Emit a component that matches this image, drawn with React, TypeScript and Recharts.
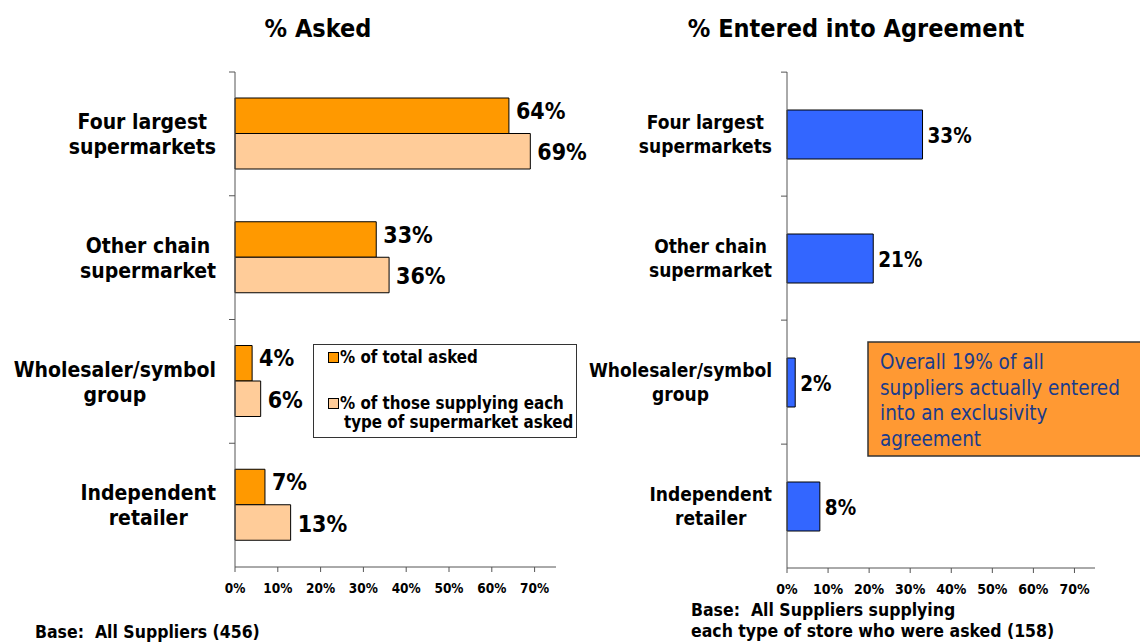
import React from 'react';
import { BarChart, Bar, XAxis, YAxis, LabelList } from 'recharts';

const categories = [
  'Four largest\nsupermarkets',
  'Other chain\nsupermarket',
  'Wholesaler/symbol\ngroup',
  'Independent\nretailer',
];
const totalAsked = [64, 33, 4, 7];
const supplyingAsked = [69, 36, 6, 13];
const enteredAgreement = [33, 21, 2, 8];
const xTicks = [0, 10, 20, 30, 40, 50, 60, 70];
const seriesNames = ['% of total asked', '% of those supplying each\ntype of supermarket asked'];
const titles = ['% Asked', '% Entered into Agreement'];
const baseLeft = ['Base:  All Suppliers (456)'];
const baseRight = ['Base:  All Suppliers supplying', 'each type of store who were asked (158)'];
const noteLines = ['Overall 19% of all', 'suppliers actually entered', 'into an exclusivity', 'agreement'];

const FONT = "'DejaVu Sans Condensed', 'DejaVu Sans', sans-serif";
const ORANGE = '#FF9900';
const PEACH = '#FFCC99';
const BLUE = '#3366FF';
const AXIS = '#555555';

const leftData = categories.map((cat, i) => ({ cat, total: totalAsked[i], supplying: supplyingAsked[i] }));
const rightData = categories.map((cat, i) => ({ cat, entered: enteredAgreement[i] }));

let ctx: CanvasRenderingContext2D | null = null;
function measure(text: string, font: string): number {
  if (!ctx) ctx = document.createElement('canvas').getContext('2d');
  if (!ctx) return text.length * 10;
  ctx.font = font;
  return ctx.measureText(text).width;
}

const BAND = 495 / 4;

function CategoryTick(props: any) {
  const { y, payload, labelRight, axisX, fontSize, lineHeight, capH } = props;
  const lines = String(payload.value).split('\n');
  const font = `bold ${fontSize}px ${FONT}`;
  const maxW = Math.max(...lines.map((l) => measure(l, font)));
  const cx = labelRight - maxW / 2;
  const y0 = y + capH / 2 - ((lines.length - 1) * lineHeight) / 2;
  return (
    <g>
      <line x1={axisX - 6} x2={axisX} y1={y - BAND / 2} y2={y - BAND / 2} stroke={AXIS} strokeWidth={1} />
      <text textAnchor="middle" fontFamily={FONT} fontWeight="bold" fontSize={fontSize} fill="#000">
        {lines.map((l, i) => (
          <tspan key={i} x={cx} y={y0 + i * lineHeight}>
            {l}
          </tspan>
        ))}
      </text>
    </g>
  );
}

const pct = (v: any) => `${v}%`;

const makeValueLabel = (fontSize: number, offset: number, shift: number) => (p: any) => {
  const { x, y, width, height, value } = p;
  return (
    <text
      x={Number(x) + Number(width) + offset}
      y={Number(y) + Number(height) / 2 + shift}
      dominantBaseline="central"
      fontFamily={FONT}
      fontWeight="bold"
      fontSize={fontSize}
      fill="#000"
    >
      {pct(value)}
    </text>
  );
};

export default function App() {
  return (
    <div style={{ position: 'absolute', left: 0, top: 0, width: 1140, height: 642, background: '#fff', overflow: 'hidden' }}>
      <div style={{ position: 'absolute', left: 0, top: 0 }}>
        <BarChart width={620} height={642} data={leftData} layout="vertical" margin={{ top: 72, right: 64, bottom: 45, left: 0 }} barGap={0}>
          <XAxis
            type="number"
            domain={[0, 75]}
            ticks={xTicks}
            interval={0}
            tickFormatter={pct}
            height={30}
            tickSize={5}
            tickMargin={11}
            axisLine={{ stroke: AXIS }}
            tickLine={{ stroke: AXIS }}
            tick={{ fontSize: 13.5, fontWeight: 'bold', fill: '#000', fontFamily: FONT }}
          />
          <YAxis
            type="category"
            dataKey="cat"
            width={235}
            interval={0}
            axisLine={{ stroke: AXIS }}
            tickLine={false}
            tick={(p: any) => <CategoryTick {...p} labelRight={216} axisX={235} fontSize={21} lineHeight={25} capH={15.5} />}
          />
          <Bar dataKey="total" fill={ORANGE} stroke="#000" strokeWidth={1} barSize={35.5} isAnimationActive={false}>
            <LabelList dataKey="total" content={makeValueLabel(23, 7, -5)} />
          </Bar>
          <Bar dataKey="supplying" fill={PEACH} stroke="#000" strokeWidth={1} barSize={35.5} isAnimationActive={false}>
            <LabelList dataKey="supplying" content={makeValueLabel(23, 7, 1)} />
          </Bar>
        </BarChart>
      </div>
      <div style={{ position: 'absolute', left: 570, top: 0 }}>
        <BarChart width={570} height={642} data={rightData} layout="vertical" margin={{ top: 72, right: 45, bottom: 44, left: 0 }}>
          <XAxis
            type="number"
            domain={[0, 75]}
            ticks={xTicks}
            interval={0}
            tickFormatter={pct}
            height={30}
            tickSize={5}
            tickMargin={11}
            axisLine={{ stroke: AXIS }}
            tickLine={{ stroke: AXIS }}
            tick={{ fontSize: 14, fontWeight: 'bold', fill: '#000', fontFamily: FONT }}
          />
          <YAxis
            type="category"
            dataKey="cat"
            width={217}
            interval={0}
            axisLine={{ stroke: AXIS }}
            tickLine={false}
            tick={(p: any) => <CategoryTick {...p} labelRight={202} axisX={217} fontSize={19} lineHeight={24} capH={14} />}
          />
          <Bar dataKey="entered" fill={BLUE} stroke="#000" strokeWidth={1} barSize={49} isAnimationActive={false}>
            <LabelList dataKey="entered" content={makeValueLabel(20.5, 5, 1)} />
          </Bar>
        </BarChart>
      </div>
      <svg width={1140} height={642} style={{ position: 'absolute', left: 0, top: 0, pointerEvents: 'none' }}>
        <g fontFamily={FONT} fontWeight="bold" fill="#000">
          <text x={318} y={37} textAnchor="middle" fontSize={25}>{titles[0]}</text>
          <text x={856} y={37} textAnchor="middle" fontSize={25}>{titles[1]}</text>
          {baseLeft.map((t, i) => (
            <text key={i} x={35} y={638 + i * 21} fontSize={17.5} xmlSpace="preserve">{t}</text>
          ))}
          {baseRight.map((t, i) => (
            <text key={i} x={691} y={616 + i * 21} fontSize={17.5} xmlSpace="preserve">{t}</text>
          ))}
        </g>
        {/* legend */}
        <rect x={313.5} y={344.5} width={263} height={93} fill="#fff" stroke="#333" strokeWidth={1} />
        <rect x={328.5} y={352.5} width={10} height={10} fill={ORANGE} stroke="#000" strokeWidth={1} />
        <rect x={328.5} y={398.5} width={10} height={10} fill={PEACH} stroke="#000" strokeWidth={1} />
        <g fontFamily={FONT} fontWeight="bold" fontSize={16.8} fill="#000">
          <text x={340} y={363}>{seriesNames[0]}</text>
          {seriesNames[1].split('\n').map((l, i) => (
            <text key={i} x={i === 0 ? 340 : 344} y={409 + i * 19}>{l}</text>
          ))}
        </g>
        {/* note box */}
        <rect x={868} y={342} width={290} height={114} fill="#FF9933" stroke="#333" strokeWidth={1.5} />
        <g fontFamily={FONT} fontSize={20.5} fill="#1A3C8C">
          {noteLines.map((l, i) => (
            <text key={i} x={880} y={369 + i * 25.5}>{l}</text>
          ))}
        </g>
      </svg>
    </div>
  );
}
